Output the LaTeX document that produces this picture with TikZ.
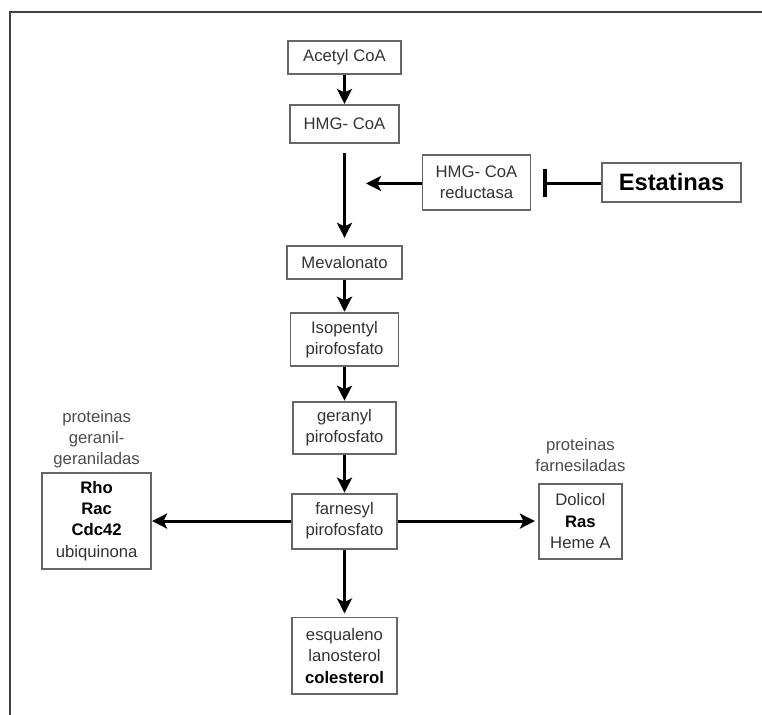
\documentclass[tikz,border=0pt]{standalone}
\usepackage{fontspec}
\setmainfont{Liberation Sans}
\usepackage{xcolor}
\usetikzlibrary{arrows.meta, positioning}

\begin{document}
\begin{tikzpicture}[
    x=0.02cm, y=-0.02cm,
    box/.style={rectangle, draw=black!60, line width=1.1pt, align=center, inner sep=2pt,
        text=black!80, font=\fontsize{9.5}{12}\selectfont},
    tag/.style={align=center, inner sep=0pt, text=black!70, font=\fontsize{9.5}{12}\selectfont},
    arrow/.style={-{Stealth[length=0.3cm, width=0.3cm, inset=0.07cm]}, line width=1.7pt},
    inhib/.style={-{Bar[width=0.56cm, line width=2pt]}, line width=1.7pt}
]
\useasboundingbox (0,0) rectangle (762,715);

% Frame
\draw[black!75, line width=1.1pt] (10,715) -- (10,12) -- (762,12);

% Main pathway
\node[box, minimum width=2.26cm, minimum height=0.66cm] (acetyl) at (344.5,57.5) {Acetyl CoA};
\node[box, below=0.58cm of acetyl, minimum width=2.18cm, minimum height=0.76cm] (hmg) {HMG- CoA};
\node[box, below=2.02cm of hmg, minimum width=2.3cm, minimum height=0.66cm] (meva) {Mevalonato};
\node[box, below=0.64cm of meva, minimum width=2.16cm, minimum height=1.06cm] (isop) {Isopentyl\\pirofosfato};
\node[box, below=0.68cm of isop, minimum width=2.06cm, minimum height=1.04cm] (geran) {geranyl\\pirofosfato};
\node[box, below=0.76cm of geran, minimum width=2.1cm, minimum height=1.1cm] (farn) {farnesyl\\pirofosfato};
\node[box, below=1.34cm of farn, minimum width=2.1cm, minimum height=1.54cm] (colest) {esqualeno\\lanosterol\\\textbf{\color{black}colesterol}};

% Enzyme and inhibitor
\node[box, minimum width=2.16cm, minimum height=1.1cm] (red) at (476.5,182.5) {HMG- CoA\\reductasa};
\node[box, minimum width=2.78cm, minimum height=0.78cm, font=\fontsize{13.5}{16}\selectfont\bfseries, text=black] (estat) at (671.5,182.5) {Estatinas};
\coordinate (redtip) at (366,183.5);

% Branches
\node[box, left=2.78cm of farn, minimum width=2.18cm, minimum height=1.92cm] (ggbox) {\textbf{\color{black}Rho}\\\textbf{\color{black}Rac}\\\textbf{\color{black}Cdc42}\\ubiquinona};
\node[box, right=2.8cm of farn, minimum width=1.66cm, minimum height=1.5cm] (fbox) {Dolicol\\\textbf{\color{black}Ras}\\Heme A};
\node[tag, above=0.08cm of ggbox] (ggtag) {proteinas\\geranil-\\geraniladas};
\node[tag, above=0.22cm of fbox] (ftag) {proteinas\\farnesiladas};

% Arrows
\draw[arrow] (acetyl) -- (hmg);
\draw[arrow, shorten <=0.18cm, shorten >=0.14cm] (hmg) -- (meva);
\draw[arrow] (meva) -- (isop);
\draw[arrow] (isop) -- (geran);
\draw[arrow] (geran) -- (farn);
\draw[arrow, shorten >=0.06cm] (farn) -- (colest);
\draw[arrow] (farn) -- (ggbox);
\draw[arrow, shorten >=0.06cm] (farn) -- (fbox);
\draw[arrow] (red.west |- redtip) -- (redtip);
\draw[inhib, shorten >=0.24cm] (estat.west |- redtip) -- (red.east |- redtip);

\end{tikzpicture}
\end{document}
